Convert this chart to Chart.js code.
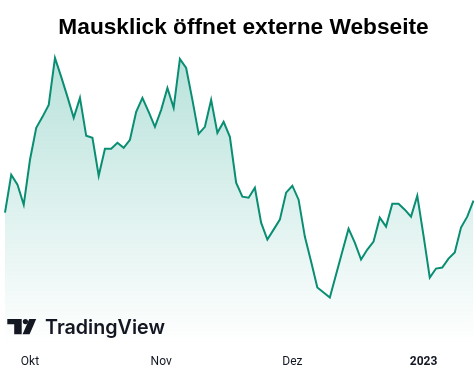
<!DOCTYPE html>
<html>
<head>
<meta charset="utf-8">
<script src="https://cdn.jsdelivr.net/npm/chart.js@4.4.1/dist/chart.umd.min.js"></script>
<style>
  html, body { margin: 0; padding: 0; background: #ffffff; }
  #wrap { width: 475px; height: 387px; position: relative; }
</style>
</head>
<body>
<div id="wrap"><canvas id="c" width="475" height="387"></canvas></div>
<script>
// ---- data ----
const titleText = 'Mausklick öffnet externe Webseite';
const dates = [
  '2022-09-27','2022-09-28','2022-09-29','2022-09-30',
  '2022-10-03','2022-10-04','2022-10-05','2022-10-06','2022-10-07','2022-10-10','2022-10-11','2022-10-12','2022-10-13','2022-10-14',
  '2022-10-17','2022-10-18','2022-10-19','2022-10-20','2022-10-21','2022-10-24','2022-10-25','2022-10-26','2022-10-27','2022-10-28','2022-10-31',
  '2022-11-01','2022-11-02','2022-11-03','2022-11-04','2022-11-07','2022-11-08','2022-11-09','2022-11-10','2022-11-11','2022-11-14',
  '2022-11-15','2022-11-16','2022-11-17','2022-11-18','2022-11-21','2022-11-22','2022-11-23','2022-11-25','2022-11-28','2022-11-29','2022-11-30',
  '2022-12-01','2022-12-02','2022-12-05','2022-12-06','2022-12-07','2022-12-08','2022-12-09','2022-12-12','2022-12-13','2022-12-14',
  '2022-12-15','2022-12-16','2022-12-19','2022-12-20','2022-12-21','2022-12-22','2022-12-23','2022-12-27','2022-12-28','2022-12-29','2022-12-30',
  '2023-01-03','2023-01-04','2023-01-05','2023-01-06','2023-01-09','2023-01-10','2023-01-11','2023-01-12','2023-01-13'
];
const prices = [
  137,175,165,145,190,222,233,245,292,273,253,232,252,214,212,174,201,201,207,202,
  210,238,252,238,223,240,262,242,291,282,250,216,223,250,217,228,213,167,153,152,
  162,127,110,120,130,157,164,150,113,88,62,57,52,75,98,121,107,90,100,108,
  132,123,146,146,140,133,154,114,72,81,82,91,97,122,133,149
];
const tickDates = ['2022-10-03','2022-11-01','2022-12-01','2023-01-03'];
const tickLabels = ['Okt','Nov','Dez','2023'];
const boldTicks = ['2023'];
const yMin = 5, yMax = 310;

// ---- chart ----
const LINE = '#0a8e73';
const decor = {
  id: 'decor',
  afterDraw(chart) {
    const ctx = chart.ctx;
    ctx.save();
    // title
    ctx.fillStyle = '#000000';
    ctx.font = 'bold 22.7px "Liberation Sans", Arial, sans-serif';
    ctx.textAlign = 'center';
    ctx.textBaseline = 'alphabetic';
    ctx.fillText(titleText, 243.5, 33.5);
    // TradingView logo
    ctx.fillStyle = '#131722';
    ctx.beginPath();
    ctx.rect(7.3, 319, 14.4, 5.2);
    ctx.rect(14.2, 319, 7.5, 15.3);
    ctx.fill();
    ctx.beginPath();
    ctx.arc(25.4, 321.6, 2.6, 0, Math.PI * 2);
    ctx.fill();
    ctx.beginPath();
    ctx.moveTo(29.2, 319);
    ctx.lineTo(36.2, 319);
    ctx.lineTo(29.6, 334.3);
    ctx.lineTo(22.6, 334.3);
    ctx.closePath();
    ctx.fill();
    ctx.textAlign = 'left';
    ctx.font = '600 21px Inter, sans-serif';
    const w = ctx.measureText('TradingView').width;
    const fs = 21 * 120 / w;
    ctx.font = '600 ' + fs.toFixed(2) + 'px Inter, sans-serif';
    ctx.fillText('TradingView', 45, 334.3);
    ctx.restore();
  }
};

const ctx = document.getElementById('c').getContext('2d');
new Chart(ctx, {
  type: 'line',
  data: {
    labels: dates,
    datasets: [{
      data: prices,
      borderColor: LINE,
      borderWidth: 2,
      pointRadius: 0,
      tension: 0,
      fill: 'start',
      backgroundColor: (c) => {
        const a = c.chart.chartArea;
        if (!a) return 'rgba(8,153,129,0.15)';
        const g = c.chart.ctx.createLinearGradient(0, a.top, 0, a.bottom);
        g.addColorStop(0, 'rgba(8,153,129,0.30)');
        g.addColorStop(1, 'rgba(8,153,129,0.0)');
        return g;
      }
    }]
  },
  options: {
    responsive: false,
    animation: false,
    events: [],
    layout: { padding: { top: 40, left: 5, right: 1.5, bottom: 8.2 } },
    plugins: { legend: { display: false }, title: { display: false }, tooltip: { enabled: false } },
    scales: {
      x: {
        type: 'category',
        offset: false,
        grid: { display: false, drawTicks: false },
        border: { display: false },
        ticks: {
          autoSkip: false,
          maxRotation: 0,
          padding: 10,
          color: '#131722',
          font: (c) => ({
            family: 'Roboto, sans-serif',
            size: 12,
            weight: (c.tick && boldTicks.includes(c.tick.label)) ? 'bold' : 'normal'
          }),
          callback: function (value) {
            const d = this.getLabelForValue(value);
            const i = tickDates.indexOf(d);
            return i >= 0 ? tickLabels[i] : null;
          }
        }
      },
      y: { display: false, min: yMin, max: yMax }
    }
  },
  plugins: [decor]
});
</script>
</body>
</html>
